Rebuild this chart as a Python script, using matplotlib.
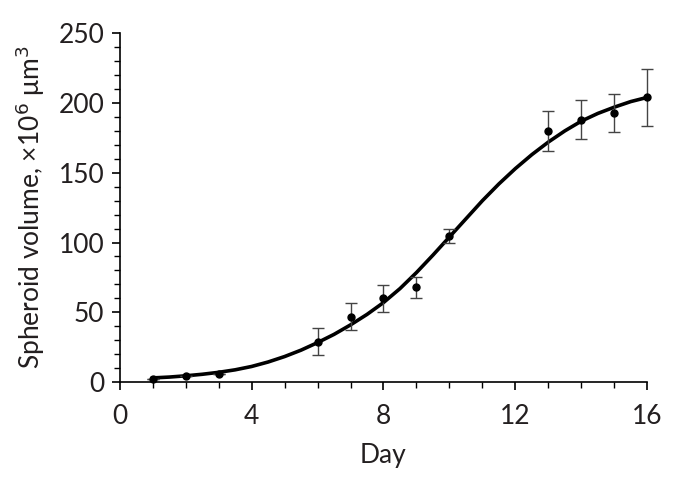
import matplotlib.pyplot as plt
from matplotlib.ticker import MultipleLocator

# measured spheroid volumes (x10^6 um^3)
days = [1, 2, 3, 6, 7, 8, 9, 10, 13, 14, 15, 16]
volume = [2, 4.5, 5.5, 29, 47, 60, 68, 105, 180, 188, 193, 204]
volume_err = [0, 0, 0, 9.5, 10, 9.5, 7.5, 5, 14.5, 14, 13.5, 20.5]

# fitted growth curve
fit_days = [1, 1.5, 2, 2.5, 3, 3.5, 4, 4.5, 5, 5.5, 6, 6.5, 7, 7.5, 8, 8.5,
            9, 9.5, 10, 10.5, 11, 11.5, 12, 12.5, 13, 13.5, 14, 14.5, 15,
            15.5, 16]
fit_volume = [3, 3.6, 4.5, 5.6, 7, 8.8, 11.2, 14.4, 18.3, 22.9, 28.3, 34.2,
              41, 48.5, 57, 67, 78.5, 91, 104, 117, 130, 142, 153, 163, 172,
              180, 187, 192.5, 197, 201, 204]

plt.rcParams['font.family'] = ['Lato', 'DejaVu Sans']
txt = '#231f20'

fig = plt.figure(figsize=(6.96, 4.88), dpi=100)
ax = fig.add_axes([0.172, 0.217, 0.758, 0.715])

ax.plot(fit_days, fit_volume, color='black', lw=2.6, zorder=2)
ax.errorbar(days, volume, yerr=volume_err, fmt='o', color='black', ms=5,
            ecolor='#444444', elinewidth=1, capsize=4, capthick=1, zorder=3,
            clip_on=False)

ax.set_xlim(0, 16)
ax.set_ylim(0, 250)
ax.xaxis.set_major_locator(MultipleLocator(4))
ax.xaxis.set_minor_locator(MultipleLocator(1))
ax.yaxis.set_major_locator(MultipleLocator(50))
ax.yaxis.set_minor_locator(MultipleLocator(10))
for s in ['top', 'right']:
    ax.spines[s].set_visible(False)
for s in ['left', 'bottom']:
    ax.spines[s].set_linewidth(1.2)
ax.tick_params(which='major', length=6, width=1.2, labelsize=19,
               labelcolor=txt, pad=5)
ax.tick_params(axis='x', which='major', pad=10)
ax.tick_params(which='minor', length=4, width=1)

ax.set_xlabel('Day', fontsize=19, color=txt, labelpad=10)
ax.set_ylabel('Spheroid volume, ×10$^6$ μm$^3$', fontsize=19, color=txt,
              labelpad=8)

fig.savefig('out.png', dpi=100)
